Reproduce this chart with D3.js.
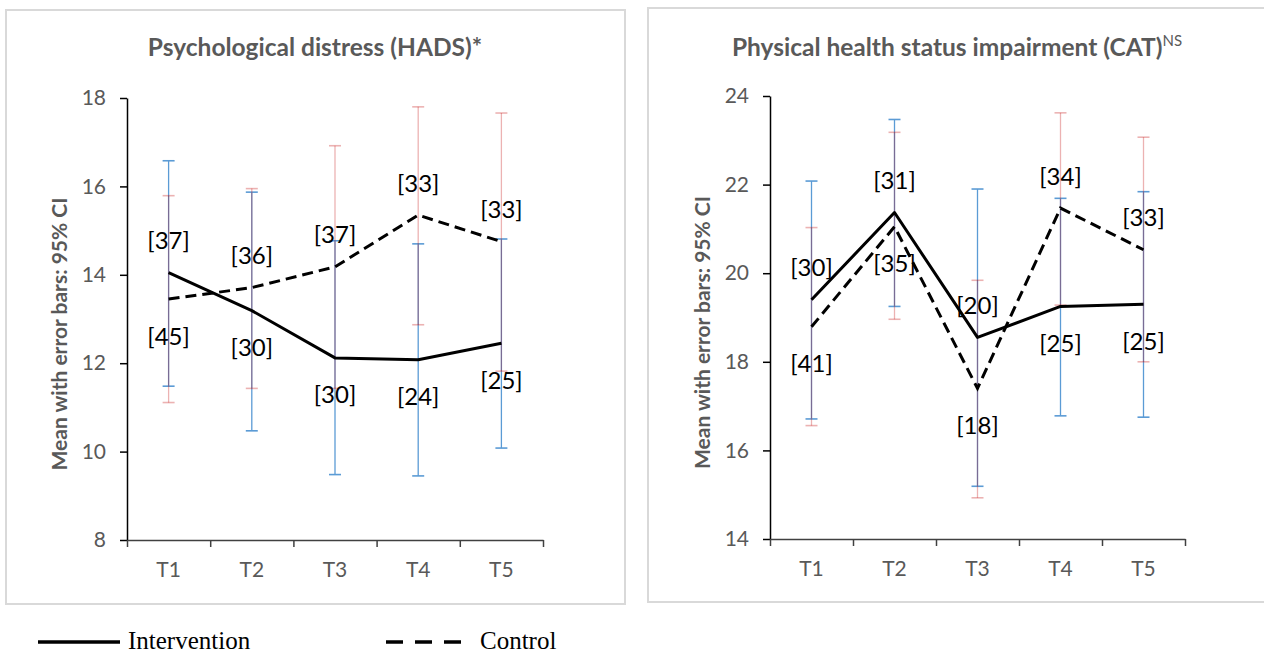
<!DOCTYPE html>
<html>
<head>
<meta charset="utf-8">
<script src="https://cdnjs.cloudflare.com/ajax/libs/d3/7.8.5/d3.min.js"></script>
<style>
  html, body { margin: 0; padding: 0; background: #fff; }
  svg { display: block; }
</style>
</head>
<body>
<svg id="chart" width="1264" height="656"></svg>
<script>
// ---------- data ----------
const categories = ["T1", "T2", "T3", "T4", "T5"];

const hadsTicks = [8, 10, 12, 14, 16, 18];
const hadsIntervention = [14.05, 13.19, 12.12, 12.08, 12.45];
const hadsInterventionLow = [11.48, 10.47, 9.48, 9.45, 10.08];
const hadsInterventionHigh = [16.58, 15.87, 14.77, 14.70, 14.81];
const hadsControl = [13.45, 13.71, 14.18, 15.35, 14.75];
const hadsControlLow = [11.11, 11.43, 11.43, 12.87, 11.82];
const hadsControlHigh = [15.79, 15.95, 16.92, 17.80, 17.66];
const hadsInterventionN = [37, 30, 30, 24, 25];
const hadsControlN = [45, 36, 37, 33, 33];

const catTicks = [14, 16, 18, 20, 22, 24];
const catIntervention = [19.40, 21.37, 18.55, 19.25, 19.30];
const catInterventionLow = [16.71, 19.25, 15.19, 16.78, 16.75];
const catInterventionHigh = [22.08, 23.47, 21.90, 21.69, 21.84];
const catControl = [18.79, 21.05, 17.40, 21.47, 20.53];
const catControlLow = [16.56, 18.96, 14.93, 19.28, 18.00];
const catControlHigh = [21.03, 23.18, 19.84, 23.62, 23.07];
const catInterventionN = [30, 31, 20, 25, 25];
const catControlN = [41, 35, 18, 34, 33];

const legendLabels = ["Intervention", "Control"];

// ---------- drawing ----------
const svg = d3.select("#chart");
const FONT = "Lato, 'Open Sans', sans-serif";
const GREY = "#595959";

function panel(opt) {
  const g = svg.append("g");
  // frame
  g.append("rect")
    .attr("x", opt.frame[0]).attr("y", opt.frame[1])
    .attr("width", opt.frame[2]).attr("height", opt.frame[3])
    .attr("fill", "none").attr("stroke", "#d9d9d9").attr("stroke-width", 2);

  const x = d3.scaleBand().domain(categories).range([opt.left, opt.right]);
  const xi = d3.scaleLinear().domain([0, categories.length]).range([opt.left, opt.right]);
  const y = d3.scaleLinear().domain(opt.domain).range([opt.bottom, opt.top]);
  const cx = c => x(c) + x.bandwidth() / 2;

  // title
  const t = g.append("text")
    .attr("x", opt.titleX).attr("y", 56)
    .attr("text-anchor", "middle")
    .attr("font-family", FONT).attr("font-weight", "bold")
    .attr("font-size", 24.5).attr("fill", GREY)
    .text(opt.title);
  if (opt.sup) {
    t.append("tspan").attr("dy", -10).attr("font-size", 15).attr("font-weight", "normal").text(opt.sup);
  }

  // y axis
  const ya = g.append("g")
    .attr("transform", `translate(${opt.left},0)`)
    .call(d3.axisLeft(y).tickValues(opt.ticks).tickSize(7).tickSizeOuter(0).tickPadding(14));
  ya.select(".domain").attr("stroke", "#000").attr("stroke-width", 1.5);
  ya.selectAll(".tick line").attr("stroke", "#000").attr("stroke-width", 1.5);
  ya.selectAll(".tick text").attr("font-family", FONT).attr("font-size", 21).attr("fill", GREY);

  // x axis: boundary ticks
  const xa = g.append("g")
    .attr("transform", `translate(0,${opt.bottom})`)
    .call(d3.axisBottom(xi).tickValues(d3.range(categories.length + 1)).tickSize(7).tickSizeOuter(0).tickFormat(""));
  xa.select(".domain").attr("stroke", "#404040").attr("stroke-width", 1.5);
  xa.selectAll(".tick line").attr("stroke", "#404040").attr("stroke-width", 1.5);
  // x axis labels
  const xl = g.append("g")
    .attr("transform", `translate(0,${opt.bottom})`)
    .call(d3.axisBottom(x).tickSize(0).tickPadding(22));
  xl.select(".domain").remove();
  xl.selectAll(".tick text").attr("font-family", FONT).attr("font-size", 21).attr("fill", GREY);

  // y title
  g.append("text")
    .attr("transform", `translate(${opt.yTitleX},${(opt.top + opt.bottom) / 2 + 15}) rotate(-90)`)
    .attr("text-anchor", "middle")
    .attr("font-family", FONT).attr("font-weight", "bold")
    .attr("font-size", 21).attr("fill", GREY)
    .text("Mean with error bars: 95% CI");

  // error bars
  function errorBars(low, high, color, opacity) {
    const eb = g.append("g").attr("stroke", color).attr("stroke-opacity", opacity).attr("stroke-width", 1.3);
    categories.forEach((c, i) => {
      eb.append("line").attr("x1", cx(c)).attr("x2", cx(c)).attr("y1", y(low[i])).attr("y2", y(high[i]));
      [low[i], high[i]].forEach(v => {
        eb.append("line").attr("x1", cx(c) - 6).attr("x2", cx(c) + 6).attr("y1", y(v)).attr("y2", y(v)).attr("stroke-width", 1.6);
      });
    });
  }
  errorBars(opt.intLow, opt.intHigh, "#5B9BD5", 1);
  errorBars(opt.conLow, opt.conHigh, "#C00000", 0.3);

  // lines
  const line = d3.line().x((d, i) => cx(categories[i])).y(d => y(d));
  g.append("path").datum(opt.control).attr("d", line)
    .attr("fill", "none").attr("stroke", "#000").attr("stroke-width", 3)
    .attr("stroke-dasharray", "11,6");
  g.append("path").datum(opt.intervention).attr("d", line)
    .attr("fill", "none").attr("stroke", "#000").attr("stroke-width", 3)
    .attr("stroke-linejoin", "round");

  // n labels: higher series above, lower series below
  categories.forEach((c, i) => {
    const a = opt.intervention[i], b = opt.control[i];
    const upper = a >= b ? { v: a, n: opt.intN[i] } : { v: b, n: opt.conN[i] };
    const lower = a >= b ? { v: b, n: opt.conN[i] } : { v: a, n: opt.intN[i] };
    g.append("text").attr("x", cx(c)).attr("y", y(upper.v) - 33)
      .attr("text-anchor", "middle").attr("dominant-baseline", "central")
      .attr("font-family", FONT).attr("font-size", 24).attr("fill", "#000")
      .text(`[${upper.n}]`);
    g.append("text").attr("x", cx(c)).attr("y", y(lower.v) + 36)
      .attr("text-anchor", "middle").attr("dominant-baseline", "central")
      .attr("font-family", FONT).attr("font-size", 24).attr("fill", "#000")
      .text(`[${lower.n}]`);
  });
}

panel({
  frame: [6, 10, 619, 594],
  left: 127, right: 543, top: 98, bottom: 540,
  domain: [8, 18], ticks: hadsTicks,
  title: "Psychological distress (HADS)*", titleX: 315, yTitleX: 67,
  intervention: hadsIntervention, intLow: hadsInterventionLow, intHigh: hadsInterventionHigh,
  control: hadsControl, conLow: hadsControlLow, conHigh: hadsControlHigh,
  intN: hadsInterventionN, conN: hadsControlN
});

panel({
  frame: [648, 8, 630, 594],
  left: 770, right: 1185, top: 96, bottom: 539,
  domain: [14, 24], ticks: catTicks,
  title: "Physical health status impairment (CAT)", sup: "NS", titleX: 957, yTitleX: 710,
  intervention: catIntervention, intLow: catInterventionLow, intHigh: catInterventionHigh,
  control: catControl, conLow: catControlLow, conHigh: catControlHigh,
  intN: catInterventionN, conN: catControlN
});

// legend
const lg = svg.append("g");
lg.append("line").attr("x1", 38).attr("x2", 120).attr("y1", 642).attr("y2", 642)
  .attr("stroke", "#000").attr("stroke-width", 3.5);
lg.append("text").attr("x", 128).attr("y", 649)
  .attr("font-family", "'Liberation Serif', 'Times New Roman', serif").attr("font-size", 25).attr("fill", "#000")
  .text(legendLabels[0]);
lg.append("line").attr("x1", 386).attr("x2", 462).attr("y1", 642).attr("y2", 642)
  .attr("stroke", "#000").attr("stroke-width", 3.5).attr("stroke-dasharray", "17,12");
lg.append("text").attr("x", 480).attr("y", 649)
  .attr("font-family", "'Liberation Serif', 'Times New Roman', serif").attr("font-size", 25).attr("fill", "#000")
  .text(legendLabels[1]);
</script>
</body>
</html>
